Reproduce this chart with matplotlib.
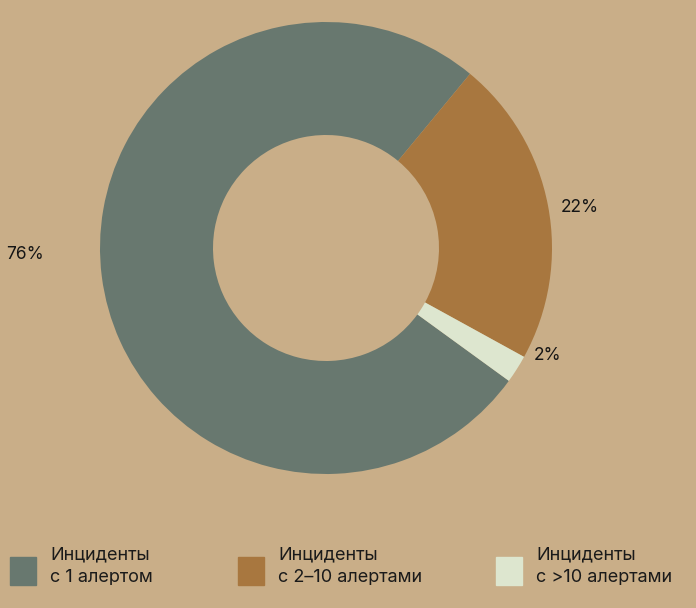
import matplotlib
matplotlib.use("Agg")
import matplotlib.pyplot as plt
from matplotlib.patches import Rectangle

plt.rcParams['font.family'] = ['Inter', 'DejaVu Sans']

categories = ["Инциденты\nс 1 алертом", "Инциденты\nс 2–10 алертами", "Инциденты\nс >10 алертами"]
shares = [76, 22, 2]
pct_labels = ["76%", "22%", "2%"]
colors = ["#68786f", "#a8773f", "#dde6cf"]
bg = "#c9ae88"

W, H = 696, 608
fig = plt.figure(figsize=(W / 100, H / 100), dpi=100, facecolor=bg)

# donut: centre about (326, 248) px, outer radius ~226 px
cx, cy, r = 326, 248, 226
ax = fig.add_axes([(cx - r) / W, (H - cy - r) / H, 2 * r / W, 2 * r / H])
ax.set_facecolor(bg)
ax.pie(shares, colors=colors, startangle=-36, counterclock=False,
       wedgeprops=dict(width=0.5, linewidth=0))
ax.set_xlim(-1, 1)
ax.set_ylim(-1, 1)
ax.set_aspect("equal")
ax.axis("off")

# percentage labels
label_pos = [(25, 255), (580, 207), (548, 355)]
for lab, (x, y) in zip(pct_labels, label_pos):
    fig.text(x / W, 1 - y / H, lab, fontsize=12.5, color="#151515",
             ha="center", va="center")

# legend
leg_x = [10, 238, 496]
for name, col, x in zip(categories, colors, leg_x):
    fig.patches.append(Rectangle((x / W, 1 - 585 / H), 26 / W, 28 / H,
                                 transform=fig.transFigure, color=col))
    fig.text((x + 40) / W, 1 - 566 / H, name, fontsize=13, color="#1a1a1a",
             ha="left", va="center", linespacing=1.4)

fig.savefig("out.png", dpi=100, facecolor=bg)
